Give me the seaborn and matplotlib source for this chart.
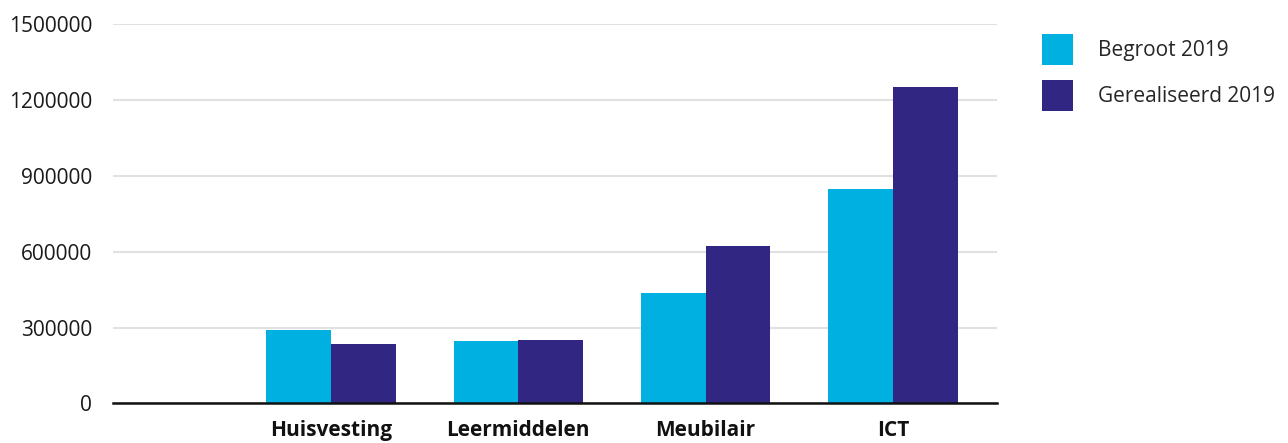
import matplotlib
matplotlib.use("Agg")
import matplotlib.pyplot as plt
import seaborn as sns
import pandas as pd
from matplotlib.patches import Patch

categories = ["Huisvesting", "Leermiddelen", "Meubilair", "ICT"]
series_names = ["Begroot 2019", "Gerealiseerd 2019"]
begroot = [290000, 247000, 436000, 848000]
gerealiseerd = [235000, 250000, 623000, 1252000]
y_ticks = [0, 300000, 600000, 900000, 1200000, 1500000]
colors = ["#00B0E0", "#312682"]

df = pd.DataFrame({
    "categorie": categories * 2,
    "reeks": [series_names[0]] * len(categories) + [series_names[1]] * len(categories),
    "waarde": begroot + gerealiseerd,
})

sns.set_theme(style="white")
plt.rcParams["font.family"] = ["Open Sans", "DejaVu Sans"]

fig = plt.figure(figsize=(12.88, 4.43), dpi=100)
ax = fig.add_axes([0.0877, 0.0896, 0.774 - 0.0877, 0.945 - 0.0896])

sns.barplot(data=df, x="categorie", y="waarde", hue="reeks", order=categories,
            hue_order=series_names, palette=colors, width=0.69, saturation=1,
            linewidth=0, edgecolor="none", ax=ax, legend=False, zorder=3)

ax.set_ylim(0, 1500000)
ax.set_xlim(-1.164, 3.555)
ax.set_yticks(y_ticks)
ax.set_yticklabels([str(v) for v in y_ticks], fontsize=15, color="#1a1a1a")
ax.set_xticks(range(len(categories)))
ax.set_xticklabels(categories, fontsize=15, fontweight="bold", color="#111111")
ax.tick_params(axis="y", length=0, pad=15)
ax.tick_params(axis="x", length=0, pad=12)
ax.set_xlabel("")
ax.set_ylabel("")
ax.yaxis.grid(True, color="#e1e1e1", linewidth=1.5, zorder=0)
ax.set_axisbelow(True)
for s in ["top", "right", "left"]:
    ax.spines[s].set_visible(False)
ax.spines["bottom"].set_color("#111111")
ax.spines["bottom"].set_linewidth(1.8)
ax.spines["bottom"].set_zorder(4)

handles = [Patch(facecolor=c, edgecolor="none", label=n) for c, n in zip(colors, series_names)]
fig.legend(handles=handles, loc="upper left", bbox_to_anchor=(0.809, 0.923),
           frameon=False, fontsize=15, handlelength=1.49, handleheight=1.92,
           handletextpad=1.2, labelspacing=0.7, borderaxespad=0, borderpad=0)

fig.savefig("out.png", dpi=100)
